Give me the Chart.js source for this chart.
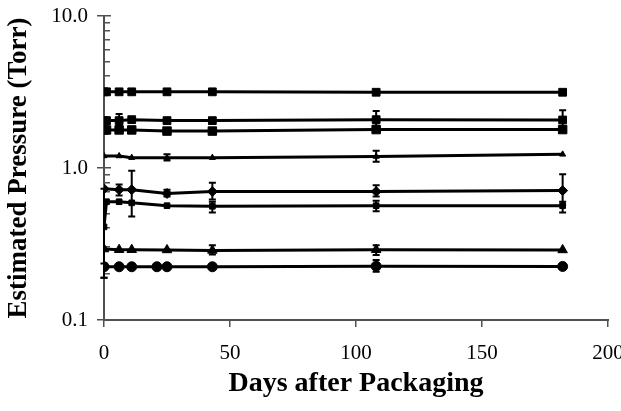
<!DOCTYPE html>
<html>
<head>
<meta charset="utf-8">
<script src="https://cdn.jsdelivr.net/npm/chart.js@4.4.0/dist/chart.umd.min.js"></script>
<style>
  html, body { margin: 0; padding: 0; background: #fff; }
</style>
</head>
<body>
<canvas id="chart" width="621" height="411"></canvas>
<script>
// days on which each group of samples was measured
const daysA = [0, 1, 6, 11, 25, 43, 108, 182];
const daysB = [0, 6, 11, 25, 43, 108, 182];
const daysC = [0, 6, 11, 21, 25, 43, 108, 182];

// estimated pressure (Torr), top to bottom
const bigSquare = [3.17, 3.17, 3.17, 3.17, 3.17, 3.17, 3.15, 3.15];
const midSquare = [2.05, 2.05, 2.05, 2.08, 2.05, 2.05, 2.08, 2.07];
const midSquareHi = [null, null, 2.27, null, null, null, 2.37, 2.4];
const midSquareLo = [null, null, 1.9, null, null, null, 1.9, 1.85];
const lowSquare = [1.78, 1.78, 1.78, 1.78, 1.75, 1.75, 1.79, 1.79];
const smallTri = [1.2, 1.2, 1.17, 1.17, 1.17, 1.19, 1.23];
const smallTriHi = [null, null, null, 1.23, null, 1.3, null];
const smallTriLo = [null, null, null, 1.12, null, 1.1, null];
const diamond = [0.73, 0.72, 0.72, 0.68, 0.70, 0.70, 0.71];
const diamondHi = [null, 0.78, 0.96, 0.72, 0.80, 0.77, 0.91];
const diamondLo = [null, 0.66, 0.48, 0.65, 0.62, 0.65, 0.57];
const smallSquare = [0.41, 0.60, 0.60, 0.59, 0.565, 0.56, 0.565, 0.565];
const smallSquareHi = [0.73, null, null, null, null, 0.6, 0.61, 0.6];
const smallSquareLo = [0.19, null, null, null, null, 0.51, 0.52, 0.51];
const triangle = [0.293, 0.29, 0.29, 0.289, 0.287, 0.29, 0.289];
const triangleHi = [null, null, null, null, 0.31, 0.31, null];
const triangleLo = [null, null, null, null, 0.27, 0.268, null];
const circle = [0.224, 0.224, 0.224, 0.224, 0.224, 0.224, 0.226, 0.225];
const circleHi = [0.235, null, null, null, null, null, 0.248, null];
const circleLo = [0.19, null, null, null, null, null, 0.208, null];

// axis ticks
const xTicks = [0, 50, 100, 150, 200];
const yMajor = [0.1, 1, 10];
const yLabels = ['0.1', '1.0', '10.0'];
const yMinorSteps = [2, 3, 4, 5, 6, 7, 8, 9];

const FONT = "'Liberation Serif', 'Times New Roman', serif";
const AXIS = '#505050';

const makeSeries = (days, values, hi, lo, style, radius) => ({
    data: days.map((d, i) => ({ x: d, y: values[i] })),
    errHi: hi || [],
    errLo: lo || [],
    borderColor: '#000',
    backgroundColor: '#000',
    borderWidth: 3,
    pointStyle: style,
    pointRadius: radius,
    pointBorderWidth: 1,
    tension: 0,
    showLine: true
});

// axis lines and tick marks, placed through the scales
const drawAxes = (chart) => {
    const ctx = chart.ctx;
    const xs = chart.scales.x, ys = chart.scales.y;
    const left = Math.round(xs.getPixelForValue(xTicks[0]));
    const right = Math.round(xs.getPixelForValue(xTicks[xTicks.length - 1]));
    const top = Math.round(ys.getPixelForValue(yMajor[yMajor.length - 1]));
    const bottom = Math.round(ys.getPixelForValue(yMajor[0]));
    ctx.save();
    ctx.fillStyle = AXIS;
    ctx.fillRect(left - 1, top, 2, bottom - top + 1);
    ctx.fillRect(left - 1, bottom - 1, right - left + 2, 2);
    xTicks.forEach((v) => {
        const x = Math.round(xs.getPixelForValue(v));
        ctx.fillRect(x - 1, bottom, 1.5, 7);
    });
    yMajor.forEach((v) => {
        const y = Math.round(ys.getPixelForValue(v));
        ctx.fillRect(left - 7, y - 1, 14, 1.5);
    });
    yMajor.slice(0, -1).forEach((d) => {
        yMinorSteps.forEach((m) => {
            const y = Math.round(ys.getPixelForValue(d * m));
            ctx.fillRect(left, y - 1, 6, 1.5);
        });
    });
    ctx.restore();
};

const drawErrorBars = (chart) => {
    const ctx = chart.ctx;
    const xs = chart.scales.x, ys = chart.scales.y;
    ctx.save();
    ctx.strokeStyle = '#000';
    ctx.lineWidth = 2;
    chart.data.datasets.forEach((ds) => {
        ds.data.forEach((p, i) => {
            const hi = ds.errHi[i], lo = ds.errLo[i];
            if (hi == null && lo == null) return;
            const x = xs.getPixelForValue(p.x);
            const yh = ys.getPixelForValue(hi != null ? hi : p.y);
            const yl = ys.getPixelForValue(lo != null ? lo : p.y);
            ctx.beginPath();
            ctx.moveTo(x, yh); ctx.lineTo(x, yl);
            if (hi != null) { ctx.moveTo(x - 3.5, yh); ctx.lineTo(x + 3.5, yh); }
            if (lo != null) { ctx.moveTo(x - 3.5, yl); ctx.lineTo(x + 3.5, yl); }
            ctx.stroke();
        });
    });
    ctx.restore();
};

new Chart(document.getElementById('chart'), {
    type: 'scatter',
    data: {
        datasets: [
            makeSeries(daysA, bigSquare, null, null, 'rect', 5.5),
            makeSeries(daysA, midSquare, midSquareHi, midSquareLo, 'rect', 5.5),
            makeSeries(daysA, lowSquare, null, null, 'rect', 6),
            makeSeries(daysB, smallTri, smallTriHi, smallTriLo, 'triangle', 3.5),
            makeSeries(daysB, diamond, diamondHi, diamondLo, 'rectRot', 5),
            makeSeries(daysA, smallSquare, smallSquareHi, smallSquareLo, 'rect', 4),
            makeSeries(daysB, triangle, triangleHi, triangleLo, 'triangle', 5.5),
            makeSeries(daysC, circle, circleHi, circleLo, 'circle', 5)
        ]
    },
    options: {
        responsive: false,
        animation: false,
        layout: { padding: { top: 16, right: 13, left: 0, bottom: 0 } },
        plugins: {
            legend: { display: false },
            tooltip: { enabled: false }
        },
        scales: {
            x: {
                type: 'linear',
                min: 0,
                max: 200,
                afterBuildTicks: (s) => { s.ticks = xTicks.map(v => ({ value: v })); },
                afterFit: (s) => { s.height = 91; s.paddingLeft = 0; s.paddingRight = 0; },
                grid: { display: false, drawTicks: false },
                border: { display: false },
                ticks: {
                    color: '#000',
                    padding: 21,
                    font: { family: FONT, size: 21 }
                },
                title: {
                    display: true,
                    text: 'Days after Packaging',
                    color: '#000',
                    font: { family: FONT, size: 28, weight: 'bold' },
                    padding: { top: 0, bottom: 10 }
                }
            },
            y: {
                type: 'logarithmic',
                min: 0.1,
                max: 10,
                afterBuildTicks: (s) => { s.ticks = yMajor.map(v => ({ value: v })); },
                afterFit: (s) => { s.width = 104; s.paddingTop = 0; s.paddingBottom = 0; },
                grid: { display: false, drawTicks: false },
                border: { display: false },
                ticks: {
                    color: '#000',
                    padding: 16,
                    font: { family: FONT, size: 21 },
                    callback: (v) => {
                        const i = yMajor.indexOf(v);
                        return i >= 0 ? yLabels[i] : '';
                    }
                },
                title: {
                    display: true,
                    text: 'Estimated Pressure (Torr)',
                    color: '#000',
                    font: { family: FONT, size: 27, weight: 'bold' },
                    padding: { top: 3, bottom: 0 }
                }
            }
        }
    },
    plugins: [{
        id: 'axesAndBars',
        beforeDatasetsDraw(chart) { drawAxes(chart); },
        afterDatasetsDraw(chart) { drawErrorBars(chart); }
    }]
});
</script>
</body>
</html>
